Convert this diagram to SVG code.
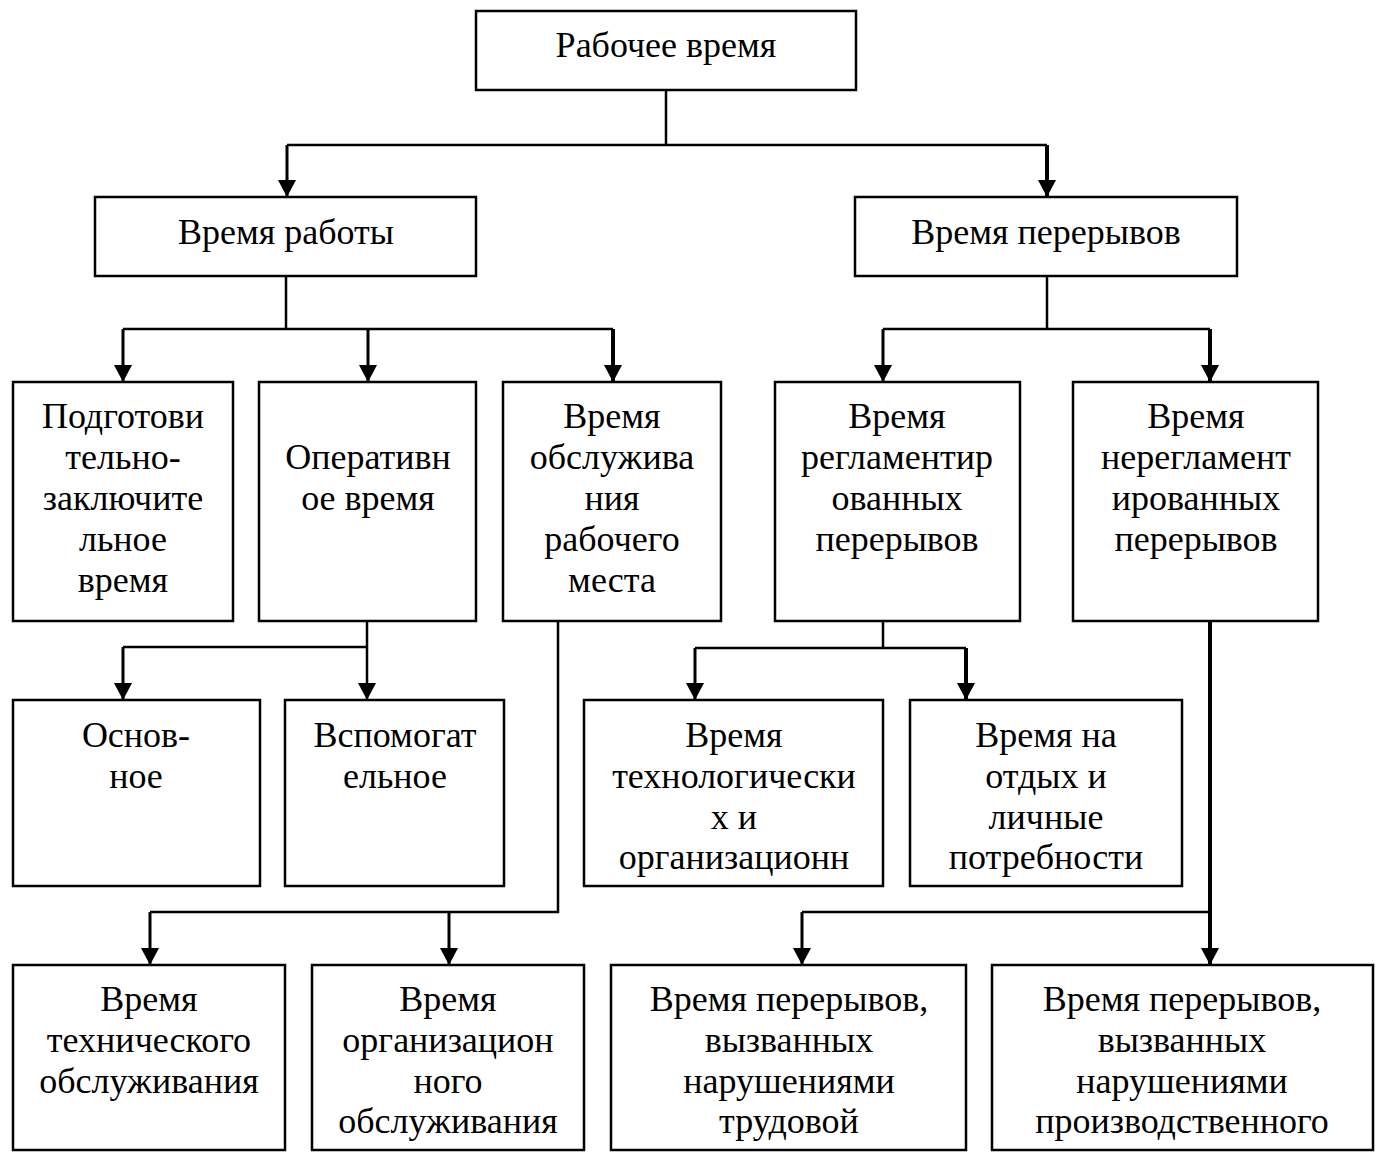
<svg xmlns="http://www.w3.org/2000/svg" width="1384" height="1154" viewBox="0 0 1384 1154">
  <style>
    .box { fill: #ffffff; stroke: #000000; stroke-width: 2.5; }
    .lbl { font-family: "Liberation Serif", "Times New Roman", serif; font-size: 36px; fill: #000000; text-anchor: middle; }
    .ln { fill: none; stroke: #000000; stroke-width: 2.5; stroke-linejoin: miter; }
    .mid { stroke-width: 3; }
    .thick { stroke-width: 4; }
  </style>
  <defs>
    <!-- filled arrowhead, tip on the line end -->
    <marker id="arrow" markerUnits="userSpaceOnUse" markerWidth="20" markerHeight="20" viewBox="0 0 20 20" refX="19" refY="10" orient="auto">
      <path d="M2,1 L19,10 L2,19 Z" fill="#000000"/>
    </marker>
  </defs>
  <rect width="1384" height="1154" fill="#ffffff"/>

  <g id="connectors">
    <!-- root to level 2 -->
    <path class="ln" d="M666,90 V145 M287,145 H1047"/>
    <path class="ln mid" d="M287,145 V197" marker-end="url(#arrow)"/>
    <path class="ln thick" d="M1047,145 V197" marker-end="url(#arrow)"/>

    <!-- work time to its three parts -->
    <path class="ln" d="M286,276 V329 M123,329 H613"/>
    <path class="ln mid" d="M123,329 V382" marker-end="url(#arrow)"/>
    <path class="ln mid" d="M368,329 V382" marker-end="url(#arrow)"/>
    <path class="ln thick" d="M613,329 V382" marker-end="url(#arrow)"/>

    <!-- breaks to its two parts -->
    <path class="ln" d="M1047,276 V329 M883,329 H1210"/>
    <path class="ln mid" d="M883,329 V382" marker-end="url(#arrow)"/>
    <path class="ln thick" d="M1210,329 V382" marker-end="url(#arrow)"/>

    <!-- operative time -->
    <path class="ln" d="M367,621 V700" marker-end="url(#arrow)"/>
    <path class="ln" d="M367,647 H123"/>
    <path class="ln mid" d="M123,647 V700" marker-end="url(#arrow)"/>

    <!-- workplace servicing -->
    <path class="ln" d="M558,621 V912 H150"/>
    <path class="ln mid" d="M150,912 V965" marker-end="url(#arrow)"/>
    <path class="ln mid" d="M449,912 V965" marker-end="url(#arrow)"/>

    <!-- regulated breaks -->
    <path class="ln" d="M883,621 V648 M695,648 H966"/>
    <path class="ln mid" d="M695,648 V700" marker-end="url(#arrow)"/>
    <path class="ln thick" d="M966,648 V700" marker-end="url(#arrow)"/>

    <!-- unregulated breaks -->
    <path class="ln thick" d="M1210,621 V965" marker-end="url(#arrow)"/>
    <path class="ln" d="M1210,912 H802"/>
    <path class="ln mid" d="M802,912 V965" marker-end="url(#arrow)"/>
  </g>

  <g id="n-root">
    <rect class="box" x="476" y="11" width="380" height="79"/>
    <text class="lbl" x="666" y="57">Рабочее время</text>
  </g>

  <g id="n-work">
    <rect class="box" x="95" y="197" width="381" height="79"/>
    <text class="lbl" x="286" y="244">Время работы</text>
  </g>
  <g id="n-breaks">
    <rect class="box" x="855" y="197" width="382" height="79"/>
    <text class="lbl" x="1046" y="244">Время перерывов</text>
  </g>

  <g id="n-prep">
    <rect class="box" x="13" y="382" width="220" height="239"/>
    <text class="lbl" x="123" y="428">Подготови</text>
    <text class="lbl" x="123" y="469">тельно-</text>
    <text class="lbl" x="123" y="510">заключите</text>
    <text class="lbl" x="123" y="551">льное</text>
    <text class="lbl" x="123" y="592">время</text>
  </g>
  <g id="n-oper">
    <rect class="box" x="259" y="382" width="217" height="239"/>
    <text class="lbl" x="368" y="469">Оперативн</text>
    <text class="lbl" x="368" y="510">ое время</text>
  </g>
  <g id="n-service">
    <rect class="box" x="503" y="382" width="218" height="239"/>
    <text class="lbl" x="612" y="428">Время</text>
    <text class="lbl" x="612" y="469">обслужива</text>
    <text class="lbl" x="612" y="510">ния</text>
    <text class="lbl" x="612" y="551">рабочего</text>
    <text class="lbl" x="612" y="592">места</text>
  </g>
  <g id="n-regulated">
    <rect class="box" x="775" y="382" width="245" height="239"/>
    <text class="lbl" x="897" y="428">Время</text>
    <text class="lbl" x="897" y="469">регламентир</text>
    <text class="lbl" x="897" y="510">ованных</text>
    <text class="lbl" x="897" y="551">перерывов</text>
  </g>
  <g id="n-unregulated">
    <rect class="box" x="1073" y="382" width="245" height="239"/>
    <text class="lbl" x="1196" y="428">Время</text>
    <text class="lbl" x="1196" y="469">нерегламент</text>
    <text class="lbl" x="1196" y="510">ированных</text>
    <text class="lbl" x="1196" y="551">перерывов</text>
  </g>

  <g id="n-main">
    <rect class="box" x="13" y="700" width="247" height="186"/>
    <text class="lbl" x="136" y="747">Основ-</text>
    <text class="lbl" x="136" y="788">ное</text>
  </g>
  <g id="n-aux">
    <rect class="box" x="285" y="700" width="219" height="186"/>
    <text class="lbl" x="395" y="747">Вспомогат</text>
    <text class="lbl" x="395" y="788">ельное</text>
  </g>
  <g id="n-tech-org">
    <rect class="box" x="584" y="700" width="299" height="186"/>
    <text class="lbl" x="734" y="747">Время</text>
    <text class="lbl" x="734" y="788">технологически</text>
    <text class="lbl" x="734" y="829">х и</text>
    <text class="lbl" x="734" y="869">организационн</text>
  </g>
  <g id="n-rest">
    <rect class="box" x="910" y="700" width="272" height="186"/>
    <text class="lbl" x="1046" y="747">Время на</text>
    <text class="lbl" x="1046" y="788">отдых и</text>
    <text class="lbl" x="1046" y="829">личные</text>
    <text class="lbl" x="1046" y="869">потребности</text>
  </g>

  <g id="n-tech-service">
    <rect class="box" x="13" y="965" width="272" height="185"/>
    <text class="lbl" x="149" y="1011">Время</text>
    <text class="lbl" x="149" y="1052">технического</text>
    <text class="lbl" x="149" y="1093">обслуживания</text>
  </g>
  <g id="n-org-service">
    <rect class="box" x="312" y="965" width="272" height="185"/>
    <text class="lbl" x="448" y="1011">Время</text>
    <text class="lbl" x="448" y="1052">организацион</text>
    <text class="lbl" x="448" y="1093">ного</text>
    <text class="lbl" x="448" y="1133">обслуживания</text>
  </g>
  <g id="n-labour">
    <rect class="box" x="611" y="965" width="355" height="185"/>
    <text class="lbl" x="789" y="1011">Время перерывов,</text>
    <text class="lbl" x="789" y="1052">вызванных</text>
    <text class="lbl" x="789" y="1093">нарушениями</text>
    <text class="lbl" x="789" y="1133">трудовой</text>
  </g>
  <g id="n-production">
    <rect class="box" x="992" y="965" width="381" height="185"/>
    <text class="lbl" x="1182" y="1011">Время перерывов,</text>
    <text class="lbl" x="1182" y="1052">вызванных</text>
    <text class="lbl" x="1182" y="1093">нарушениями</text>
    <text class="lbl" x="1182" y="1133">производственного</text>
  </g>
</svg>
